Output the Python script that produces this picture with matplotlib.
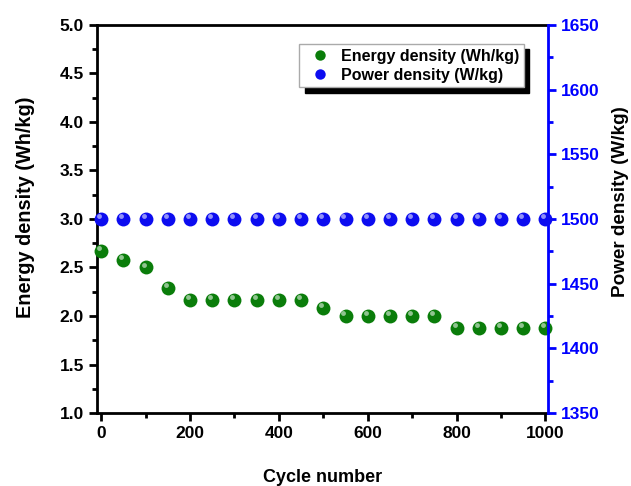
import matplotlib.pyplot as plt
from matplotlib.ticker import MultipleLocator
from matplotlib.transforms import ScaledTranslation

plt.rcParams['font.family'] = ['Liberation Sans', 'DejaVu Sans']
plt.rcParams['font.weight'] = 'bold'

cycles = [0, 50, 100, 150, 200, 250, 300, 350, 400, 450, 500,
          550, 600, 650, 700, 750, 800, 850, 900, 950, 1000]
energy = [2.67, 2.58, 2.50, 2.29, 2.17, 2.17, 2.17, 2.17, 2.17, 2.17, 2.08,
          2.00, 2.00, 2.00, 2.00, 2.00, 1.875, 1.875, 1.875, 1.875, 1.875]
power = [1500] * 21


def sphere(ax, x, y, color, label):
    # base ball plus small highlight to fake the shaded look
    ax.plot(x, y, 'o', color=color, markersize=10, markeredgewidth=0, label=label, zorder=3, clip_on=False)
    shift = ax.transData + ScaledTranslation(-1.5 / 72, 2 / 72, ax.figure.dpi_scale_trans)
    ax.plot(x, y, 'o', color='white', alpha=0.55, markersize=3.5, markeredgewidth=0,
            zorder=4, clip_on=False, transform=shift)


fig = plt.figure(figsize=(6.31, 4.86), dpi=100)
ax = fig.add_axes([0.154, 0.150, 0.714, 0.799])
ax2 = ax.twinx()

sphere(ax, cycles, energy, '#0a7d0a', 'Energy density (Wh/kg)')
sphere(ax2, cycles, power, '#0c0cf0', 'Power density (W/kg)')

ax.set_xlim(-9, 1005)
ax.set_ylim(1.0, 5.0)
ax2.set_ylim(1350, 1650)

ax.xaxis.set_major_locator(MultipleLocator(200))
ax.xaxis.set_minor_locator(MultipleLocator(100))
ax.yaxis.set_major_locator(MultipleLocator(0.5))
ax.yaxis.set_minor_locator(MultipleLocator(0.25))
ax2.yaxis.set_major_locator(MultipleLocator(50))
ax2.yaxis.set_minor_locator(MultipleLocator(25))

for s in ['left', 'bottom', 'top']:
    ax.spines[s].set_linewidth(2)
ax.spines['right'].set_visible(False)
for s in ['left', 'bottom', 'top']:
    ax2.spines[s].set_visible(False)
ax2.spines['right'].set_linewidth(2)
ax2.spines['right'].set_color('blue')

ax.tick_params(axis='both', which='major', direction='out', length=6, width=2, labelsize=12.5)
ax.tick_params(axis='both', which='minor', direction='out', length=3.5, width=2)
ax.tick_params(top=False, right=False)
ax2.tick_params(axis='y', which='major', direction='out', length=6, width=2, colors='blue', labelsize=12.5)
ax2.tick_params(axis='y', which='minor', direction='out', length=3.5, width=2, colors='blue')

ax.set_xlabel('Cycle number', fontsize=13, fontweight='bold', labelpad=20)
ax.set_ylabel('Energy density (Wh/kg)', fontsize=14.3, fontweight='bold', labelpad=18)
ax2.set_ylabel('Power density (W/kg)', fontsize=13.6, fontweight='bold', labelpad=9)
# labels sit a bit above the axes centre in the original
ax.yaxis.label.set_y(0.53)
ax2.yaxis.label.set_y(0.545)

h1, l1 = ax.get_legend_handles_labels()
h2, l2 = ax2.get_legend_handles_labels()
leg = ax2.legend(h1 + h2, l1 + l2, loc='upper left', bbox_to_anchor=(0.448, 0.951),
                 borderaxespad=0, fontsize=11.5, fancybox=False, framealpha=1,
                 shadow={'ox': 4, 'oy': -4, 'color': 'black', 'alpha': 1},
                 handletextpad=0.3, borderpad=0.3, labelspacing=0.25, markerscale=0.75)
leg.get_frame().set_edgecolor('#aaaaaa')

fig.savefig('out.png', dpi=100)
